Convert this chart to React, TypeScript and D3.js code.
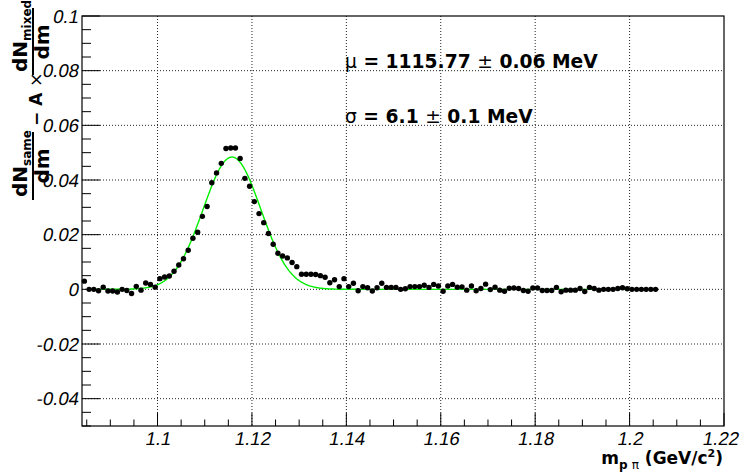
import React from "react";
import * as d3 from "d3";

// ---- data ----
const BIN_FIRST_CENTER = 1.0845;
const BIN_WIDTH = 0.001;
const yieldValues: number[] = [
  0.003, 0.0, 0.0, -0.0005, 0.0008, -0.0006, -0.0006, -0.001, 0.0, -0.0004,
  -0.0015, 0.0011, -0.0003, 0.0023, 0.0018, 0.0008, 0.0039, 0.0045, 0.0049, 0.0066,
  0.0089, 0.0112, 0.0143, 0.0187, 0.0209, 0.0267, 0.0303, 0.039, 0.0426, 0.0461,
  0.0515, 0.0517, 0.0517, 0.0479, 0.0406, 0.0377, 0.0321, 0.0277, 0.0244, 0.0204,
  0.0165, 0.0132, 0.0122, 0.0115, 0.0098, 0.0083, 0.0055, 0.0055, 0.0055, 0.0054,
  0.005, 0.0044, 0.0024, 0.0035, 0.001, 0.0039, 0.001, 0.0022, -0.0005, 0.001,
  0.0006, -0.0006, 0.0006, 0.0022, 0.0007, 0.0007, 0.0007, 0.0, 0.0002, 0.001,
  0.001, 0.001, 0.0015, 0.0007, 0.0018, 0.0012, -0.0007, 0.0012, 0.0018, 0.0008,
  0.0009, -0.0003, 0.0012, -0.0005, 0.0003, 0.0019, -0.0001, 0.0008, -0.0003, -0.0007,
  0.0004, 0.0005, 0.0003, -0.0004, -0.0007, 0.0005, 0.0005, -0.0004, -0.0004, -0.0004,
  0.0007, -0.0009, -0.0003, -0.0003, -0.0003, 0.0003, -0.0008, 0.0007, 0.0003, -0.0003,
  0.0, 0.0, 0.0, 0.0003, 0.0006, 0.0002, 0.0, 0.0, 0.0, 0.0,
  0.0, 0.0,
];
const xMajorTicks = [1.1, 1.12, 1.14, 1.16, 1.18, 1.2, 1.22];
const xTickLabels = ["1.1", "1.12", "1.14", "1.16", "1.18", "1.2", "1.22"];
const yMajorTicks = [-0.04, -0.02, 0, 0.02, 0.04, 0.06, 0.08, 0.1];
const yTickLabels = ["-0.04", "-0.02", "0", "0.02", "0.04", "0.06", "0.08", "0.1"];
const fitMean = 1.11577;
const fitSigma = 0.0061;
const fitAmplitude = 0.0484;
const fitRange = [1.085, 1.2];
const xDomain = [1.084, 1.22];
const yDomain = [-0.05, 0.1];
const muText = "1115.77";
const muErr = "0.06";
const sigmaText = "6.1";
const sigmaErr = "0.1";

const BOLD = "'DejaVu Sans', sans-serif";
const TICKFONT = "'Liberation Sans', Arial, sans-serif";

export default function App() {
  const W = 744, H = 472;
  const L = 82, R = 724, T = 16, B = 426;
  const x = d3.scaleLinear().domain(xDomain).range([L, R]);
  const y = d3.scaleLinear().domain(yDomain).range([B, T]);

  const xMinor = d3.range(0, 28).map((i) => 1.085 + i * 0.005);
  const yMinor = d3.range(0, 31).map((i) => -0.05 + i * 0.005);
  const isMajor = (v: number) => Math.abs(v / 0.02 - Math.round(v / 0.02)) < 1e-6;

  const fitXs = d3.range(fitRange[0], fitRange[1] + 1e-9, 0.0002);
  const fitLine = d3
    .line<number>()
    .x((v) => x(v))
    .y((v) => y(fitAmplitude * Math.exp(-0.5 * ((v - fitMean) / fitSigma) ** 2)));

  const dash = "1,2";
  const tickStyle = { fontStyle: "normal" as const, fontFamily: TICKFONT, fontSize: "18.5px" };
  const slant = "skewX(-11)";

  return (
    <svg
      width={W}
      height={H}
      style={{ position: "absolute", left: 0, top: 0, background: "#fff" }}
    >
      <rect x={0} y={0} width={W} height={H} fill="#fff" />
      {/* grid */}
      {xMajorTicks
        .filter((v) => v < 1.219)
        .map((v) => (
          <line key={"gx" + v} x1={x(v)} x2={x(v)} y1={T} y2={B} stroke="#222" strokeWidth={1} strokeDasharray={dash} />
        ))}
      {yMajorTicks
        .filter((v) => v < 0.099)
        .map((v) => (
          <line key={"gy" + v} x1={L} x2={R} y1={y(v)} y2={y(v)} stroke="#222" strokeWidth={1} strokeDasharray={dash} />
        ))}
      {/* ticks */}
      {xMinor.map((v) => (
        <line key={"tx" + v} x1={x(v)} x2={x(v)} y1={B} y2={B - (isMajor(v) ? 13 : 6.5)} stroke="#000" strokeWidth={1} />
      ))}
      {yMinor.map((v) => (
        <line key={"ty" + v} x1={L} x2={L + (isMajor(v) ? 18 : 9)} y1={y(v)} y2={y(v)} stroke="#000" strokeWidth={1} />
      ))}
      {/* frame */}
      <rect x={L} y={T} width={R - L} height={B - T} fill="none" stroke="#000" strokeWidth={1.2} />

      {/* fit */}
      <path d={fitLine(fitXs) || ""} fill="none" stroke="#00ee00" strokeWidth={1.4} />

      {/* data */}
      {yieldValues.map((v, i) => (
        <circle key={"p" + i} cx={x(BIN_FIRST_CENTER + i * BIN_WIDTH)} cy={y(v)} r={2.7} fill="#000" />
      ))}

      {/* tick labels */}
      {xMajorTicks.map((v, i) => (
        <g key={"lx" + v} transform={`translate(${Math.min(x(v), W - 24)},445) ${slant}`}>
          <text x={0} y={0} textAnchor="middle" style={tickStyle}>
            {xTickLabels[i]}
          </text>
        </g>
      ))}
      {yMajorTicks.map((v, i) => (
        <g key={"ly" + v} transform={`translate(78,${y(v) + 6.5}) ${slant}`}>
          <text x={0} y={0} textAnchor="end" style={tickStyle}>
            {yTickLabels[i]}
          </text>
        </g>
      ))}

      {/* x title */}
      <text x={723} y={464} textAnchor="end" fontFamily={BOLD} fontWeight="bold" fontSize={17}>
        <tspan>m</tspan>
        <tspan fontSize={12} dy={5}>p </tspan>
        <tspan fontSize={12} fontWeight="normal">π</tspan>
        <tspan dy={-5}> (GeV/c</tspan>
        <tspan fontSize={11} dy={-7}>2</tspan>
        <tspan dy={7}>)</tspan>
      </text>

      {/* y title */}
      <g transform="translate(0,200) rotate(-90)" fontFamily={BOLD} fontWeight="bold">
        <text x={3} y={27} fontSize={20}>
          <tspan>dN</tspan>
          <tspan fontSize={12} dy={4}>same</tspan>
        </text>
        <line x1={0} x2={68} y1={33} y2={33} stroke="#000" strokeWidth={2} />
        <text x={34} y={49} fontSize={20} textAnchor="middle">dm</text>
        <text x={74} y={42} fontSize={17}>
          <tspan>− A </tspan>
          <tspan fontWeight="normal">×</tspan>
        </text>
        <text x={128} y={27} fontSize={20}>
          <tspan>dN</tspan>
          <tspan fontSize={12} dy={4}>mixed</tspan>
        </text>
        <line x1={125} x2={192} y1={33} y2={33} stroke="#000" strokeWidth={2} />
        <text x={158} y={49} fontSize={20} textAnchor="middle">dm</text>
      </g>

      {/* annotations */}
      <text x={345} y={68} fontFamily={BOLD} fontSize={18.7} fontWeight="bold">
        <tspan fontWeight="normal">μ</tspan>
        <tspan> = {muText} </tspan>
        <tspan fontWeight="normal">±</tspan>
        <tspan> {muErr} MeV</tspan>
      </text>
      <text x={345} y={123} fontFamily={BOLD} fontSize={18.7} fontWeight="bold">
        <tspan fontWeight="normal">σ</tspan>
        <tspan> = {sigmaText} </tspan>
        <tspan fontWeight="normal">±</tspan>
        <tspan> {sigmaErr} MeV</tspan>
      </text>
    </svg>
  );
}
